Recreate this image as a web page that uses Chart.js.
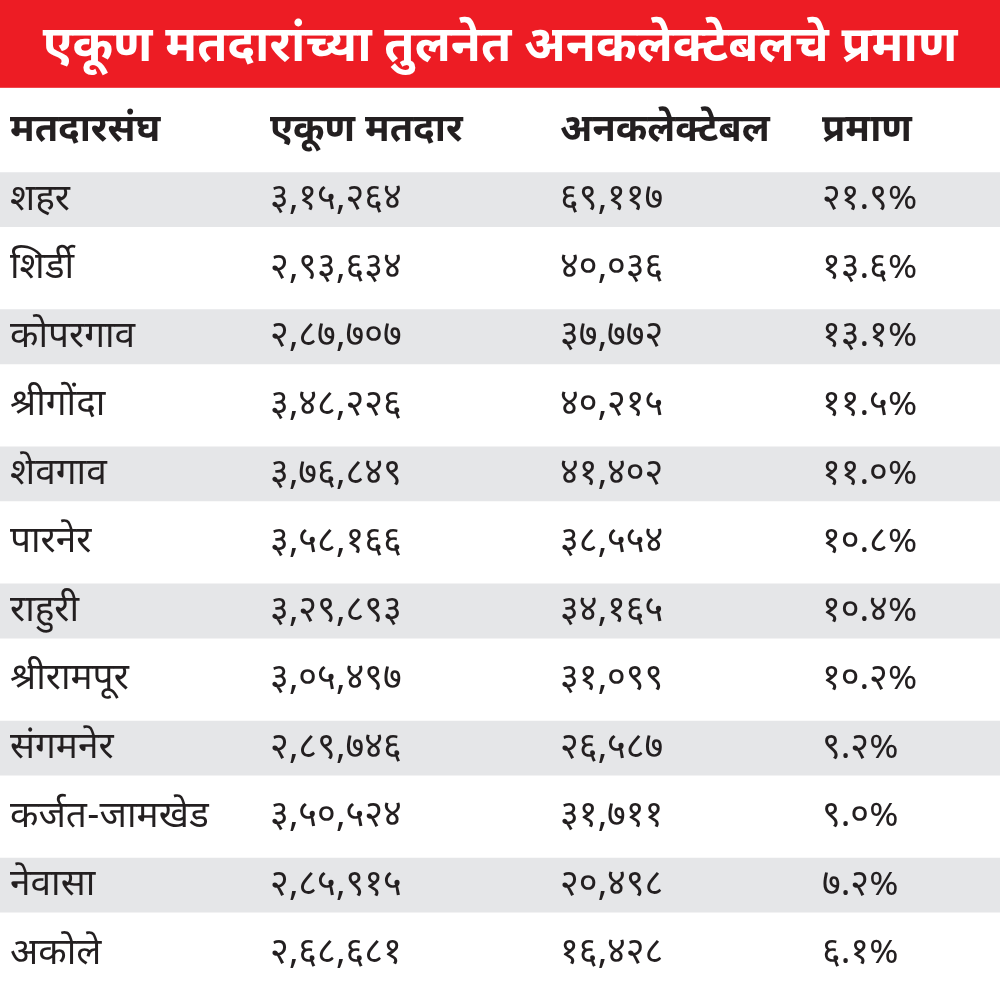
<!DOCTYPE html>
<html><head><meta charset="utf-8">
<script src="https://cdn.jsdelivr.net/npm/chart.js@4.4.1/dist/chart.umd.min.js"></script>
<style>html,body{margin:0;padding:0;background:#fff}#wrap{width:1000px;height:1000px;position:relative}</style>
</head><body><div id="wrap"><canvas id="c"></canvas></div>
<script>
const titleText = 'एकूण मतदारांच्या तुलनेत अनकलेक्टेबलचे प्रमाण';
const columnHeaders = ['मतदारसंघ', 'एकूण मतदार', 'अनकलेक्टेबल', 'प्रमाण'];
const constituencies = ['शहर','शिर्डी','कोपरगाव','श्रीगोंदा','शेवगाव','पारनेर','राहुरी','श्रीरामपूर','संगमनेर','कर्जत-जामखेड','नेवासा','अकोले'];
const totalVoters = [315264, 293634, 287707, 348226, 376849, 358166, 329893, 305497, 289746, 350524, 285915, 268681];
const uncollectable = [69117, 40036, 37772, 40215, 41402, 38554, 34165, 31099, 26587, 31711, 20498, 16428];
const sharePct = [21.9, 13.6, 13.1, 11.5, 11.0, 10.8, 10.4, 10.2, 9.2, 9.0, 7.2, 6.1];

const FONT = "'Noto Sans Devanagari','Lohit Devanagari','Mukta','Noto Sans','DejaVu Sans',sans-serif";
const RED = '#ed1c24', GREY = '#e5e6e8', INK = '#231f20';
const X_MIN = 0, X_MAX = 1000;
const COL_X = [10, 270, 560, 822];
const BANNER_GAP = 9;
const TEXT_DY = 3;

const DEV = '०१२३४५६७८९';
const toDev = s => String(s).replace(/[0-9]/g, d => DEV[+d]);
function indianGroup(n){
  const s = String(n);
  if (s.length <= 3) return s;
  let last3 = s.slice(-3), rest = s.slice(0, -3);
  rest = rest.replace(/\B(?=(\d{2})+(?!\d))/g, ',');
  return rest + ',' + last3;
}
const fmtNum = n => toDev(indianGroup(n));
const fmtPct = p => toDev(p.toFixed(1)) + '%';

const rowLabels = ['__header__', ...constituencies];
const bandData = rowLabels.map((_, i) => (i >= 1 && (i - 1) % 2 === 0) ? [X_MIN, X_MAX] : null);

const tablePlugin = {
  id: 'tableText',
  beforeDraw(chart){
    const ctx = chart.ctx;
    ctx.save();
    ctx.fillStyle = '#fff';
    ctx.fillRect(0, 0, chart.width, chart.height);
    const tb = chart.titleBlock;
    ctx.fillStyle = RED;
    ctx.fillRect(0, 0, chart.width, tb.bottom - BANNER_GAP);
    ctx.restore();
  },
  afterDatasetsDraw(chart){
    const ctx = chart.ctx, xs = chart.scales.x, ys = chart.scales.y;
    ctx.save();
    ctx.fillStyle = INK;
    ctx.textBaseline = 'middle';
    ctx.textAlign = 'left';
    ctx.font = `bold 38px ${FONT}`;
    const hy = ys.getPixelForValue(0) + TEXT_DY;
    columnHeaders.forEach((h, c) => ctx.fillText(h, xs.getPixelForValue(COL_X[c]), hy));
    constituencies.forEach((name, i) => {
      const y = ys.getPixelForValue(i + 1) + TEXT_DY;
      ctx.font = `37px ${FONT}`;
      ctx.fillText(name, xs.getPixelForValue(COL_X[0]), y);
      ctx.font = `36px ${FONT}`;
      [fmtNum(totalVoters[i]), fmtNum(uncollectable[i]), fmtPct(sharePct[i])]
        .forEach((t, c) => ctx.fillText(t, xs.getPixelForValue(COL_X[c + 1]), y));
    });
    ctx.restore();
  }
};

new Chart(document.getElementById('c'), {
  type: 'bar',
  data: {
    labels: rowLabels,
    datasets: [{
      data: bandData,
      backgroundColor: GREY,
      borderWidth: 0,
      barPercentage: 0.8,
      categoryPercentage: 1.0
    }]
  },
  options: {
    indexAxis: 'y',
    responsive: true,
    maintainAspectRatio: false,
    animation: false,
    layout: { padding: { top: 0, bottom: 12, left: 0, right: 0 } },
    scales: {
      x: { type: 'linear', min: X_MIN, max: X_MAX, display: false },
      y: { type: 'category', display: false, offset: true }
    },
    plugins: {
      legend: { display: false },
      tooltip: { enabled: false },
      title: {
        display: true,
        text: titleText,
        color: '#fff',
        font: { family: FONT, size: 49, weight: 'bold', lineHeight: 1.2 },
        padding: { top: 22, bottom: 16 }
      }
    }
  },
  plugins: [tablePlugin]
});
</script>
</body></html>
